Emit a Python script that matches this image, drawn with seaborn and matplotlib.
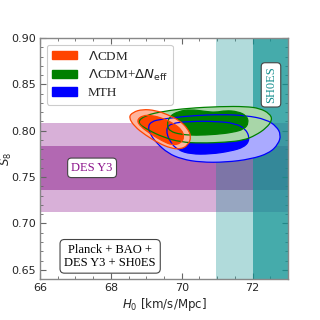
import numpy as np
import seaborn as sns
import matplotlib.pyplot as plt
from matplotlib.path import Path
from matplotlib.patches import PathPatch, Patch

# DES Y3 S8 and SH0ES H0 (mean, 1 sigma)
des_s8, des_err = 0.760, 0.024
shoes_h0, shoes_err = 73.04, 1.04

# contour outlines (H0, S8)
lcdm_2s_h0 = [68.50, 68.62, 68.89, 69.26, 69.60, 69.94, 70.17, 70.27, 70.18, 69.97, 69.68, 69.34, 68.97, 68.67]
lcdm_2s_s8 = [0.8145, 0.8200, 0.8232, 0.8220, 0.8175, 0.8110, 0.8022, 0.7935, 0.7845, 0.7800, 0.7812, 0.7868, 0.7955, 0.8045]
lcdm_1s_h0 = [68.73, 68.89, 69.17, 69.48, 69.77, 70.00, 70.07, 69.98, 69.74, 69.46, 69.12, 68.84]
lcdm_1s_s8 = [0.8112, 0.8166, 0.8166, 0.8132, 0.8078, 0.8011, 0.7932, 0.7866, 0.7843, 0.7888, 0.7966, 0.8045]

neff_2s_h0 = [68.73, 68.97, 69.48, 70.16, 71.10, 71.81, 72.20, 72.48, 72.56, 72.39, 72.09, 71.75, 71.24, 70.53, 69.97, 69.48, 69.04]
neff_2s_s8 = [0.8090, 0.8166, 0.8210, 0.8243, 0.8262, 0.8262, 0.8242, 0.8186, 0.8118, 0.8030, 0.7952, 0.7897, 0.7876, 0.7866, 0.7878, 0.7930, 0.8010]
neff_1s_h0 = [69.58, 69.66, 69.91, 70.25, 70.67, 70.96, 71.24, 71.58, 71.83, 71.89, 71.77, 71.44, 70.96, 70.39, 69.97, 69.66]
neff_1s_s8 = [0.8065, 0.8158, 0.8210, 0.8230, 0.8208, 0.8198, 0.8218, 0.8208, 0.8163, 0.8086, 0.8018, 0.7982, 0.7960, 0.7950, 0.7960, 0.7995]

mth_2s_h0 = [69.04, 69.16, 69.40, 69.82, 70.39, 71.10, 71.81, 72.39, 72.68, 72.80, 72.73, 72.47, 71.95, 71.24, 70.53, 70.00, 69.61, 69.29, 69.12]
mth_2s_s8 = [0.8046, 0.8102, 0.8122, 0.8144, 0.8165, 0.8176, 0.8165, 0.8122, 0.8045, 0.7957, 0.7857, 0.7758, 0.7694, 0.7660, 0.7660, 0.7694, 0.7758, 0.7868, 0.7957]
mth_1s_h0 = [69.55, 69.68, 70.25, 70.96, 71.52, 71.83, 71.92, 71.77, 71.38, 70.82, 70.25, 69.89, 69.66]
mth_1s_s8 = [0.8011, 0.8080, 0.8102, 0.8102, 0.8080, 0.8011, 0.7903, 0.7824, 0.7780, 0.7748, 0.7748, 0.7792, 0.7882]


def closed_curve(x, y):
    # smooth closed outline, the points act as control points
    pts = np.column_stack([x, y])
    mids = (pts + np.roll(pts, -1, axis=0)) / 2
    verts = [mids[-1]]
    codes = [Path.MOVETO]
    for p, m in zip(pts, mids):
        verts += [p, m]
        codes += [Path.CURVE3, Path.CURVE3]
    return Path(verts, codes)


sns.set_theme(style="ticks")
plt.rcParams['font.family'] = ['DejaVu Sans']

fig = plt.figure(figsize=(3.2, 3.2), dpi=100)
ax = fig.add_axes([0.125, 0.128, 0.775, 0.753])

# DES Y3 band
ax.axhspan(des_s8 - 2 * des_err, des_s8 + 2 * des_err, color='#d8b0d8', lw=0, zorder=0)
ax.axhspan(des_s8 - des_err, des_s8 + des_err, color='#b268b2', lw=0, zorder=0)
# SH0ES band
ax.axvspan(shoes_h0 - 2 * shoes_err, shoes_h0 + 2 * shoes_err, color='#0e9292', alpha=0.32, lw=0, zorder=1)
ax.axvspan(shoes_h0 - shoes_err, shoes_h0 + shoes_err, color='#0e9292', alpha=0.66, lw=0, zorder=1)

models = [
    ('MTH', mth_2s_h0, mth_2s_s8, mth_1s_h0, mth_1s_s8, '#aaaaff', '#0000ff'),
    ('neff', neff_2s_h0, neff_2s_s8, neff_1s_h0, neff_1s_s8, '#a8d6a8', '#008000'),
    ('lcdm', lcdm_2s_h0, lcdm_2s_s8, lcdm_1s_h0, lcdm_1s_s8, '#ffb49c', '#ff4500'),
]
for name, h2, s2, h1, s1, light, dark in models:
    ax.add_patch(PathPatch(closed_curve(h2, s2), fc=light, ec='none', zorder=3))
    ax.add_patch(PathPatch(closed_curve(h1, s1), fc=dark, ec='none', zorder=3))
for name, h2, s2, h1, s1, light, dark in models:
    ax.add_patch(PathPatch(closed_curve(h2, s2), fc='none', ec=dark, lw=0.9, zorder=4))
    ax.add_patch(PathPatch(closed_curve(h1, s1), fc='none', ec=dark, lw=0.9, zorder=4))

ax.set_xlim(66, 73)
ax.set_ylim(0.64, 0.90)
ax.set_xticks([66, 68, 70, 72])
ax.set_xticks(np.arange(66, 73.01, 0.5), minor=True)
ax.set_yticks([0.65, 0.70, 0.75, 0.80, 0.85, 0.90])
ax.set_yticks(np.arange(0.64, 0.9001, 0.01), minor=True)
ax.tick_params(which='both', direction='in', top=True, right=True, color='#666666', labelsize=8, pad=3)
ax.tick_params(which='major', length=4, width=0.8)
ax.tick_params(which='minor', length=2, width=0.6)
for sp in ax.spines.values():
    sp.set_color('#888888')
    sp.set_linewidth(1.0)
ax.set_xlabel('$H_0$ [km/s/Mpc]', fontsize=8.5, labelpad=2)
ax.set_ylabel('$S_8$', fontsize=8.5)
ax.yaxis.set_label_coords(-0.105, 0.5)

serif = ['Liberation Serif', 'DejaVu Serif']
handles = [Patch(fc='#ff4500', ec='#ff4500'), Patch(fc='#008000', ec='#008000'), Patch(fc='#0000ff', ec='#0000ff')]
labels = [r'$\Lambda$CDM', r'$\Lambda$CDM+$\Delta N_{\rm eff}$', 'MTH']
leg = ax.legend(handles, labels, loc='upper left', prop={'family': serif, 'size': 9.5},
                borderaxespad=0.5, handlelength=1.9, handleheight=0.6, labelspacing=0.35,
                fancybox=True, framealpha=1, edgecolor='#cccccc')
leg.get_frame().set_linewidth(0.8)

ax.text(67.47, 0.760, 'DES Y3', color='#8b128b', fontsize=9, family=serif, ha='center', va='center', zorder=6,
        bbox=dict(boxstyle='round,pad=0.3', fc='white', ec='#444444', lw=0.8))
ax.text(72.52, 0.8495, 'SH0ES', color='#168f8f', fontsize=9, family=serif, ha='center', va='center', rotation=90,
        zorder=6, bbox=dict(boxstyle='round,pad=0.3', fc='white', ec='#444444', lw=0.8))
ax.text(67.98, 0.6645, 'Planck + BAO +\nDES Y3 + SH0ES', color='black', fontsize=9, family=serif, ha='center',
        va='center', zorder=6, linespacing=1.1, bbox=dict(boxstyle='round,pad=0.35', fc='white', ec='#444444', lw=0.8))

fig.savefig('out.png', dpi=100)
